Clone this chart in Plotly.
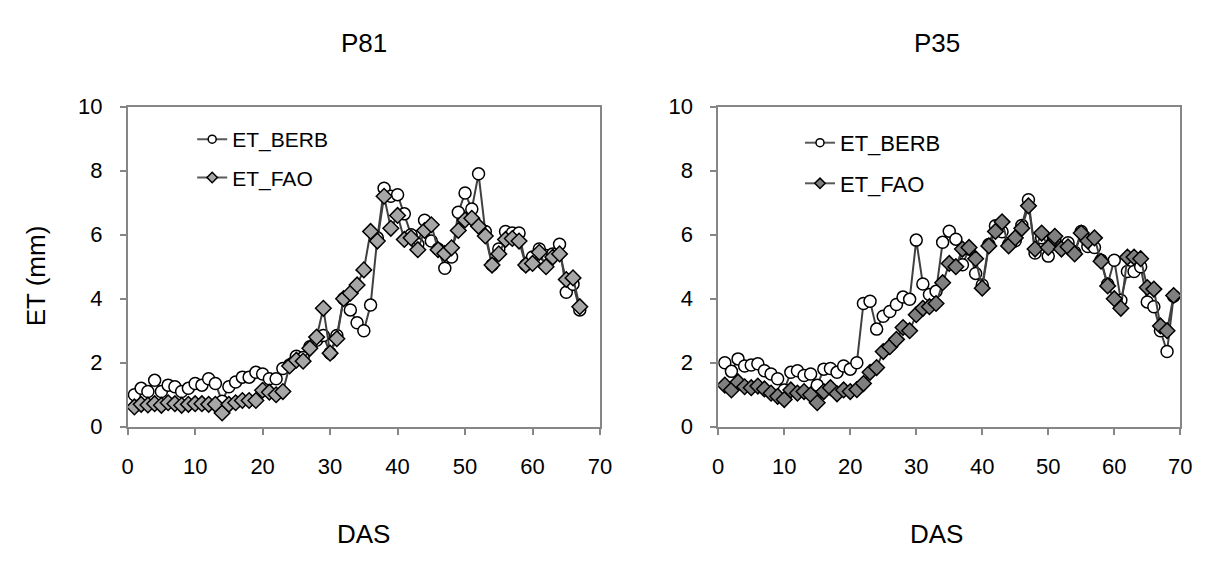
import plotly.graph_objects as go

# ---------------- data ----------------
days_p81 = list(range(1, 68))
et_berb_p81 = [1.0, 1.2, 1.1, 1.45, 1.1, 1.3, 1.25, 1.1, 1.2, 1.35,
               1.3, 1.5, 1.35, 0.8, 1.25, 1.4, 1.55, 1.55, 1.7, 1.65,
               1.5, 1.5, 1.82, 1.93, 2.2, 2.16, 2.5, 2.7, 2.85, 2.3,
               2.85, 4.0, 3.65, 3.25, 3.0, 3.8, 5.9, 7.45, 7.2, 7.25,
               6.65, 6.0, 5.7, 6.45, 5.8, 5.55, 4.95, 5.3, 6.7, 7.3,
               6.8, 7.9, 6.1, 5.05, 5.55, 6.1, 6.05, 6.05, 5.05, 5.3,
               5.55, 5.35, 5.4, 5.7, 4.2, 4.45, 3.65]
et_fao_p81 = [0.62, 0.7, 0.68, 0.72, 0.67, 0.75, 0.72, 0.67, 0.7, 0.72,
              0.72, 0.7, 0.7, 0.43, 0.7, 0.75, 0.82, 0.82, 0.82, 1.14,
              1.08, 1.0, 1.1, 1.9, 2.08, 2.05, 2.45, 2.8, 3.7, 2.3,
              2.75, 4.0, 4.17, 4.43, 4.9, 6.1, 5.8, 7.2, 6.2, 6.6,
              5.85, 5.9, 5.53, 6.13, 6.31, 5.53, 5.41, 5.59, 6.13, 6.46,
              6.51, 6.26, 5.96, 5.05, 5.4, 5.85, 5.88, 5.8, 5.05, 5.1,
              5.45, 5.0, 5.3, 5.4, 4.6, 4.65, 3.75]

days_p35 = list(range(1, 70))
et_berb_p35 = [2.0, 1.73, 2.12, 1.9, 1.93, 1.97, 1.75, 1.65, 1.5, 1.15,
               1.7, 1.75, 1.6, 1.65, 1.3, 1.8, 1.82, 1.7, 1.9, 1.8,
               2.0, 3.85, 3.92, 3.05, 3.45, 3.6, 3.82, 4.05, 3.98, 5.83,
               4.46, 4.13, 4.23, 5.76, 6.11, 5.86, 5.06, 5.55, 4.79, 4.43,
               5.69, 6.28, 6.09, 5.69, 5.81, 6.29, 7.09, 5.43, 5.9, 5.33,
               5.85, 5.6, 5.75, 5.45, 6.1, 5.63, 5.6, 5.2, 4.45, 5.2,
               3.95, 4.85, 4.85, 5.0, 3.9, 3.75, 3.0, 2.35, 4.08]
et_fao_p35 = [1.3, 1.15, 1.4, 1.25, 1.22, 1.27, 1.18, 1.05, 0.95, 0.85,
              1.15, 1.05, 1.1, 1.0, 0.75, 1.1, 1.22, 1.03, 1.15, 1.1,
              1.16, 1.35, 1.7, 1.85, 2.35, 2.5, 2.73, 3.1, 3.0, 3.5,
              3.7, 3.75, 3.85, 4.5, 5.1, 5.0, 5.55, 5.6, 5.25, 4.33,
              5.65, 6.1, 6.4, 5.65, 5.9, 6.2, 6.9, 5.55, 6.05, 5.6,
              5.95, 5.55, 5.62, 5.4, 6.05, 5.8, 5.9, 5.17, 4.4, 4.0,
              3.7, 5.3, 5.3, 5.25, 4.35, 4.3, 3.15, 3.0, 4.1]

panel_titles = ["P81", "P35"]
series_names = ["ET_BERB", "ET_FAO"]
x_title = "DAS"
y_title = "ET (mm)"

# ---------------- layout helpers ----------------
W, H = 1209, 564
FONT = "Liberation Sans, Arial, sans-serif"


def px(x):
    return x / W


def py(y):
    return 1 - y / H


LINE_COL = "#404040"
AXIS_COL = "#868686"

fig = go.Figure()

panels = [
    (days_p81, et_berb_p81, et_fao_p81, "x", "y", "legend", "#a6a6a6"),
    (days_p35, et_berb_p35, et_fao_p35, "x2", "y2", "legend2", "#7f7f7f"),
]

for days, berb, fao, xa, ya, lg, dcol in panels:
    # data traces
    fig.add_trace(go.Scatter(
        x=days, y=berb, name=series_names[0], mode="lines+markers",
        xaxis=xa, yaxis=ya, showlegend=False,
        line=dict(color=LINE_COL, width=2),
        marker=dict(symbol="circle", size=12, color="white",
                    line=dict(color="black", width=1.5)),
    ))
    fig.add_trace(go.Scatter(
        x=days, y=fao, name=series_names[1], mode="lines+markers",
        xaxis=xa, yaxis=ya, showlegend=False,
        line=dict(color=LINE_COL, width=2),
        marker=dict(symbol="diamond", size=12, color=dcol,
                    line=dict(color="black", width=1.5)),
    ))
    # legend entries (smaller legend markers, as in the original)
    fig.add_trace(go.Scatter(
        x=[None], y=[None], name=series_names[0], mode="lines+markers",
        xaxis=xa, yaxis=ya, legend=lg, legendgroup=lg + "a",
        line=dict(color="#595959", width=2),
        marker=dict(symbol="circle", size=8, color="white",
                    line=dict(color="black", width=1.5)),
    ))
    fig.add_trace(go.Scatter(
        x=[None], y=[None], name=series_names[1], mode="lines+markers",
        xaxis=xa, yaxis=ya, legend=lg, legendgroup=lg + "b",
        line=dict(color="#595959", width=2),
        marker=dict(symbol="diamond", size=8, color=dcol,
                    line=dict(color="black", width=1.5)),
    ))

axis_common = dict(
    showgrid=False, zeroline=False, showline=True, linecolor=AXIS_COL,
    linewidth=1.5, mirror=True, ticks="outside", ticklen=6,
    tickcolor=AXIS_COL, tickwidth=1.5, ticklabelstandoff=13,
    tickfont=dict(family=FONT, size=22, color="black"),
)

left_dom = [px(123.5), px(603)]
right_dom = [px(723), px(1192)]
y_dom = [py(434), py(99)]

fig.update_layout(
    width=W, height=H,
    margin=dict(l=0, r=0, t=0, b=0),
    paper_bgcolor="white", plot_bgcolor="white",
    font=dict(family=FONT, color="black"),
    xaxis=dict(domain=left_dom, range=[0, 70], dtick=10, anchor="y", **axis_common),
    yaxis=dict(domain=y_dom, range=[0, 10], dtick=2, anchor="x", **axis_common),
    xaxis2=dict(domain=right_dom, range=[0, 70], dtick=10, anchor="y2", **axis_common),
    yaxis2=dict(domain=y_dom, range=[0, 10], dtick=2, anchor="x2", **axis_common),
    legend=dict(x=px(189), y=py(112), xanchor="left", yanchor="top",
                bgcolor="rgba(0,0,0,0)", font=dict(family=FONT, size=21),
                tracegroupgap=8),
    legend2=dict(x=px(806), y=py(115), xanchor="left", yanchor="top",
                 bgcolor="rgba(0,0,0,0)", font=dict(family=FONT, size=22),
                 tracegroupgap=9),
)

annotations = [
    dict(text=panel_titles[0], x=px(363), y=py(32)),
    dict(text=panel_titles[1], x=px(945), y=py(32)),
    dict(text=x_title, x=px(363), y=py(546)),
    dict(text=x_title, x=px(945), y=py(546)),
]
for a in annotations:
    fig.add_annotation(xref="paper", yref="paper", showarrow=False,
                       xanchor="center", yanchor="middle",
                       font=dict(family=FONT, size=26, color="black"), **a)
fig.add_annotation(xref="paper", yref="paper", showarrow=False,
                   text=y_title, x=px(30), y=py(276), textangle=-90,
                   xanchor="center", yanchor="middle",
                   font=dict(family=FONT, size=26, color="black"))

fig.write_html("out.html")
